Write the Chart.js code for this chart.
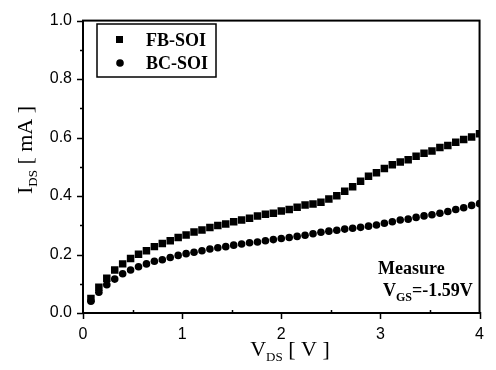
<!DOCTYPE html>
<html>
<head>
<meta charset="utf-8">
<script src="https://cdn.jsdelivr.net/npm/chart.js@4.4.1/dist/chart.umd.min.js"></script>
<style>
  html, body { margin: 0; padding: 0; background: #fff; }
  #wrap { width: 496px; height: 370px; }
</style>
</head>
<body>
<div id="wrap"><canvas id="ivChart"></canvas></div>
<script>
// V_DS sweep: 0.08 V steps, 50 points
const vds = [
  0.08, 0.16, 0.24, 0.32, 0.40, 0.48, 0.56, 0.64, 0.72, 0.80,
  0.88, 0.96, 1.04, 1.12, 1.20, 1.28, 1.36, 1.44, 1.52, 1.60,
  1.68, 1.76, 1.84, 1.92, 2.00, 2.08, 2.16, 2.24, 2.32, 2.40,
  2.48, 2.56, 2.64, 2.72, 2.80, 2.88, 2.96, 3.04, 3.12, 3.20,
  3.28, 3.36, 3.44, 3.52, 3.60, 3.68, 3.76, 3.84, 3.92, 4.00
];
// I_DS [mA], FB-SOI (squares)
const fbSoi = [
  0.050, 0.088, 0.119, 0.147, 0.168, 0.186, 0.201, 0.213, 0.227, 0.238,
  0.247, 0.258, 0.267, 0.277, 0.284, 0.292, 0.299, 0.304, 0.312, 0.318,
  0.324, 0.332, 0.338, 0.341, 0.349, 0.354, 0.362, 0.369, 0.373, 0.379,
  0.390, 0.401, 0.416, 0.432, 0.451, 0.468, 0.480, 0.494, 0.507, 0.516,
  0.524, 0.536, 0.546, 0.554, 0.566, 0.573, 0.584, 0.593, 0.602, 0.613
];
// I_DS [mA], BC-SOI (circles)
const bcSoi = [
  0.040, 0.071, 0.097, 0.116, 0.134, 0.147, 0.158, 0.168, 0.177, 0.182,
  0.190, 0.197, 0.203, 0.208, 0.213, 0.219, 0.223, 0.227, 0.232, 0.236,
  0.240, 0.243, 0.247, 0.251, 0.255, 0.258, 0.262, 0.266, 0.271, 0.276,
  0.280, 0.283, 0.287, 0.290, 0.293, 0.297, 0.301, 0.307, 0.312, 0.318,
  0.321, 0.327, 0.332, 0.336, 0.341, 0.347, 0.354, 0.360, 0.368, 0.374
];
const xTicks = [0, 1, 2, 3, 4];
const yTicks = [0.0, 0.2, 0.4, 0.6, 0.8, 1.0];
const seriesNames = ["FB-SOI", "BC-SOI"];

const SERIF = "'Liberation Serif', 'Times New Roman', serif";
const SANS = "'Liberation Sans', Arial, sans-serif";

const toPts = (ys) => vds.map((x, i) => ({ x: x, y: ys[i] }));

// draws text with a subscript part, returns end x
function subText(ctx, x, y, parts) {
  for (const p of parts) {
    ctx.font = p.font;
    ctx.fillText(p.t, x, y + (p.dy || 0));
    x += ctx.measureText(p.t).width;
  }
  return x;
}
function subWidth(ctx, parts) {
  let w = 0;
  for (const p of parts) { ctx.font = p.font; w += ctx.measureText(p.t).width; }
  return w;
}

const decor = {
  id: "decor",
  afterDraw(chart) {
    const { ctx, chartArea: a, scales } = chart;
    const xs = scales.x, ys = scales.y;
    ctx.save();
    ctx.strokeStyle = "#000";
    ctx.fillStyle = "#000";

    // frame
    ctx.lineWidth = 2;
    ctx.strokeRect(a.left, a.top, a.right - a.left, a.bottom - a.top);

    // ticks, outward on both axes
    ctx.lineWidth = 1.5;
    ctx.beginPath();
    for (let v = 0; v <= 1.0001; v += 0.1) {
      const py = Math.round(ys.getPixelForValue(v)) + 0.5;
      const major = Math.round(v * 10) % 2 === 0;
      ctx.moveTo(a.left, py);
      ctx.lineTo(a.left - (major ? 6 : 3), py);
    }
    for (let v = 0; v <= 4.0001; v += 0.5) {
      const px = Math.round(xs.getPixelForValue(v)) + 0.5;
      const major = Math.round(v * 2) % 2 === 0;
      ctx.moveTo(px, a.bottom - (major ? 1 : 3));
      ctx.lineTo(px, a.bottom + (major ? 6 : 1));
    }
    ctx.stroke();

    // legend box
    ctx.lineWidth = 1.5;
    ctx.strokeRect(97, 24, 119, 53);
    ctx.fillRect(116, 36, 7, 7);
    ctx.beginPath();
    ctx.arc(120, 63, 3.8, 0, Math.PI * 2);
    ctx.fill();
    ctx.font = "bold 18px " + SERIF;
    ctx.textBaseline = "alphabetic";
    ctx.textAlign = "left";
    ctx.fillText(seriesNames[0], 146, 46);
    ctx.fillText(seriesNames[1], 146, 69);

    // annotation
    ctx.font = "bold 18px " + SERIF;
    ctx.fillText("Measure", 378, 274);
    subText(ctx, 383, 296, [
      { t: "V", font: "bold 18px " + SERIF },
      { t: "GS", font: "bold 12px " + SERIF, dy: 5 },
      { t: "=-1.59V", font: "bold 18px " + SERIF }
    ]);

    // x title
    const xParts = [
      { t: "V", font: "22px " + SERIF },
      { t: "DS", font: "13px " + SERIF, dy: 5 },
      { t: " [ V ]", font: "22px " + SERIF }
    ];
    const xw = subWidth(ctx, xParts);
    subText(ctx, 290 - xw / 2, 356, xParts);

    // y title (rotated)
    const yParts = [
      { t: "I", font: "22px " + SERIF },
      { t: "DS", font: "13px " + SERIF, dy: 5 },
      { t: " [ mA ]", font: "22px " + SERIF }
    ];
    const yw = subWidth(ctx, yParts);
    ctx.translate(32, 150);
    ctx.rotate(-Math.PI / 2);
    subText(ctx, -yw / 2, 0, yParts);

    ctx.restore();
  }
};

new Chart(document.getElementById("ivChart"), {
  type: "scatter",
  data: {
    datasets: [
      {
        label: seriesNames[0],
        data: toPts(fbSoi),
        pointStyle: "rect",
        pointRadius: 5.3,
        backgroundColor: "#000",
        borderColor: "#000",
        borderWidth: 0
      },
      {
        label: seriesNames[1],
        data: toPts(bcSoi),
        pointStyle: "circle",
        pointRadius: 3.8,
        backgroundColor: "#000",
        borderColor: "#000",
        borderWidth: 0
      }
    ]
  },
  options: {
    responsive: true,
    maintainAspectRatio: false,
    animation: false,
    layout: { padding: { top: 14, right: 9, left: 0, bottom: 0 } },
    plugins: {
      legend: { display: false },
      tooltip: { enabled: false }
    },
    scales: {
      x: {
        type: "linear",
        min: 0,
        max: 4,
        afterFit: (s) => { s.height = 57; },
        afterBuildTicks: (s) => { s.ticks = xTicks.map(v => ({ value: v })); },
        grid: { display: false, drawTicks: false },
        border: { display: false },
        ticks: {
          padding: 12,
          color: "#000",
          font: { family: SANS, size: 16 },
          callback: (v) => String(v)
        }
      },
      y: {
        type: "linear",
        min: 0,
        max: 1,
        afterFit: (s) => { s.width = 83; },
        afterBuildTicks: (s) => { s.ticks = yTicks.map(v => ({ value: v })); },
        grid: { display: false, drawTicks: false },
        border: { display: false },
        ticks: {
          padding: 11,
          color: "#000",
          font: { family: SANS, size: 16 },
          callback: (v) => v.toFixed(1)
        }
      }
    }
  },
  plugins: [decor]
});
</script>
</body>
</html>
